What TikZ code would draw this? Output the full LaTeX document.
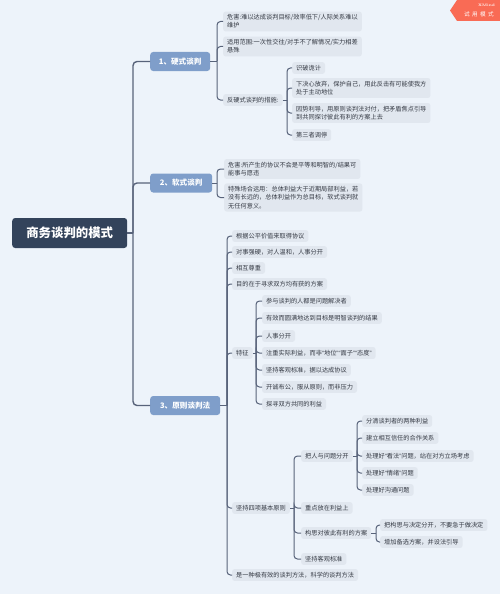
\documentclass[tikz,border=0pt]{standalone}
\usepackage{fontspec}
\newfontfamily\cjk{Noto Sans CJK SC}
\newfontfamily\latq{Liberation Sans}
\newcommand\myqo{{\latq “}}
\newcommand\myqc{{\latq ”}}
\definecolor{bgc}{HTML}{EDF3FA}
\definecolor{leafc}{HTML}{E1E7EF}
\definecolor{txt}{HTML}{353A44}
\definecolor{brc}{HTML}{7F9ECA}
\definecolor{rootc}{HTML}{33435B}
\definecolor{linec}{HTML}{58637A}
\definecolor{badge}{HTML}{F96B55}
\tikzset{
  leaf/.style={fill=leafc, rounded corners=2.5pt, inner xsep=4pt, inner ysep=3pt,
    font=\cjk\fontsize{6.2}{8.2}\selectfont, text=txt, anchor=west, align=left},
  brnode/.style={fill=brc, rounded corners=3pt, text=white, inner sep=0pt,
    font=\cjk\fontsize{7.6}{9}\selectfont\bfseries, minimum height=19pt, anchor=west},
  conn/.style={draw=linec, line width=1pt, rounded corners=3.5pt},
  trunk/.style={draw=linec, line width=1.4pt, rounded corners=4pt},
}
\begin{document}
\begin{tikzpicture}[x=1pt,y=-1pt]
\fill[bgc] (0,0) rectangle (500,594);
\useasboundingbox (0,0) rectangle (500,594);

% badge
\fill[badge] (450,10.5) -- (457,0) -- (500,0) -- (500,21) -- (457,21) -- cycle;
\node[text=white, font=\fontsize{3.6}{4}\selectfont\bfseries, anchor=east, inner sep=0pt] (bx) at (495,5.5) {XMind};
\node[text=white, font=\cjk\fontsize{5.6}{6}\selectfont, anchor=east, inner sep=0pt] (by) at (494,14.5) {试\hspace{2.4pt}用\hspace{2.4pt}模\hspace{2.4pt}式};

% root
\node[fill=rootc, rounded corners=3pt, text=white, font=\cjk\fontsize{12.4}{14}\selectfont\bfseries,
  minimum width=115pt, minimum height=30pt, anchor=west, inner sep=0pt] (root) at (12,233) {商务谈判的模式};

% branches
\node[brnode, minimum width=60pt] (b1) at (150,61.5) {1、硬式谈判};
\node[brnode, minimum width=62pt] (b2) at (150,183) {2、软式谈判};
\node[brnode, minimum width=70pt] (b3) at (150,405.5) {3、原则谈判法};

% branch 1
\node[leaf] (a1) at (223,21.5) {危害:难以达成谈判目标/效率低下/人际关系难以\\维护};
\node[leaf] (a2) at (223,46.5) {适用范围:一次性交往/对手不了解情况/实力相差\\悬殊};
\node[leaf] (a3) at (223,100) {反硬式谈判的措施:};
\node[leaf] (a31) at (292,68) {识破诡计};
\node[leaf] (a32) at (292,88) {下决心放弃，保护自己，用此反击有可能使我方\\处于主动地位};
\node[leaf] (a33) at (292,113) {因势利导，用原则谈判法对付，把矛盾焦点引导\\到共同探讨彼此有利的方案上去};
\node[leaf] (a34) at (292,135) {第三者调停};

% branch 2
\node[leaf] (c1) at (224,169) {危害:所产生的协议不会是平等和明智的/结果可\\能事与愿违};
\node[leaf] (c2) at (224,197.5) {特殊场合运用：总体利益大于近期局部利益，若\\没有长远的，总体利益作为总目标，软式谈判就\\无任何意义。};

% branch 3
\node[leaf] (d1) at (232,236) {根据公平价值来取得协议};
\node[leaf] (d2) at (232,252) {对事强硬，对人温和，人事分开};
\node[leaf] (d3) at (232,268) {相互尊重};
\node[leaf] (d4) at (232,284) {目的在于寻求双方均有获的方案};
\node[leaf] (d5) at (232,353) {特征};
\node[leaf] (d51) at (262,301) {参与谈判的人都是问题解决者};
\node[leaf] (d52) at (262,318) {有效而圆满地达到目标是明智谈判的结果};
\node[leaf] (d53) at (262,336) {人事分开};
\node[leaf] (d54) at (262,353) {注重实际利益，而非\myqo 地位\myqc\myqo 面子\myqc\myqo 态度\myqc};
\node[leaf] (d55) at (262,370) {坚持客观标准，据以达成协议};
\node[leaf] (d56) at (262,387) {开诚布公，服从原则，而非压力};
\node[leaf] (d57) at (262,404) {探寻双方共同的利益};
\node[leaf] (d6) at (232,508) {坚持四项基本原则};
\node[leaf] (d61) at (301,456) {把人与问题分开};
\node[leaf] (d611) at (362,421) {分清谈判者的两种利益};
\node[leaf] (d612) at (362,438) {建立相互信任的合作关系};
\node[leaf] (d613) at (362,456) {处理好\myqo 看法\myqc 问题，站在对方立场考虑};
\node[leaf] (d614) at (362,473) {处理好\myqo 情绪\myqc 问题};
\node[leaf] (d615) at (362,490) {处理好沟通问题};
\node[leaf] (d62) at (301,508) {重点放在利益上};
\node[leaf] (d63) at (301,533) {构思对彼此有利的方案};
\node[leaf] (d631) at (380,525) {把构思与决定分开，不要急于做决定};
\node[leaf] (d632) at (380,542) {增加备选方案，并设法引导};
\node[leaf] (d64) at (301,559) {坚持客观标准};
\node[leaf] (d7) at (232,575) {是一种极有效的谈判方法，科学的谈判方法};

% junctions
\coordinate (j0) at (133,233);
\coordinate (j1) at (217,61.5);
\coordinate (j13) at (287,100);
\coordinate (j2) at (217,183);
\coordinate (j3) at (227,405.5);
\coordinate (j35) at (256,353);
\coordinate (j36) at (294,508);
\coordinate (j361) at (357,456);
\coordinate (j363) at (376,533);

% connectors
\draw[trunk] (root.east) -- (j0);
\foreach \c in {b1,b2,b3} \draw[trunk] (\c.west) -| (j0);

\draw[conn] (b1.east) -- (j1);
\foreach \c in {a1,a2,a3} \draw[conn] (\c.west) -| (j1);
\draw[conn] (a3.east) -- (j13);
\foreach \c in {a31,a32,a33,a34} \draw[conn] (\c.west) -| (j13);

\draw[conn] (b2.east) -- (j2);
\foreach \c in {c1,c2} \draw[conn] (\c.west) -| (j2);

\draw[conn] (b3.east) -- (j3);
\foreach \c in {d1,d2,d3,d4,d5,d6,d7} \draw[conn] (\c.west) -| (j3);
\draw[conn] (d5.east) -- (j35);
\foreach \c in {d51,d52,d53,d54,d55,d56,d57} \draw[conn] (\c.west) -| (j35);
\draw[conn] (d6.east) -- (j36);
\foreach \c in {d61,d62,d63,d64} \draw[conn] (\c.west) -| (j36);
\draw[conn] (d61.east) -- (j361);
\foreach \c in {d611,d612,d613,d614,d615} \draw[conn] (\c.west) -| (j361);
\draw[conn] (d63.east) -- (j363);
\foreach \c in {d631,d632} \draw[conn] (\c.west) -| (j363);
\end{tikzpicture}
\end{document}
